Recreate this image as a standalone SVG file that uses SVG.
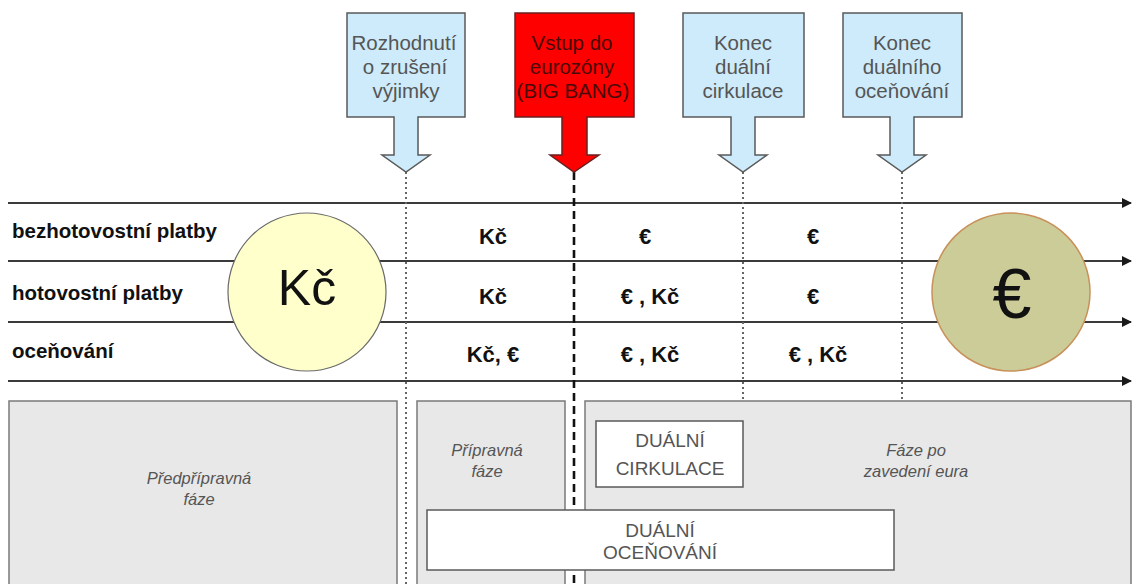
<svg xmlns="http://www.w3.org/2000/svg" width="1138" height="584" viewBox="0 0 1138 584">
  <style>
    .callout { fill: #CDEBFA; stroke: #5a5a5a; stroke-width: 1.5; }
    .callout-red { fill: #FF0000; stroke: #6a2020; stroke-width: 1.5; }
    .ctext { font-family: "Liberation Sans", Arial, sans-serif; font-size: 20.5px; fill: #555555; text-anchor: middle; }
    .ctext-red { font-family: "Liberation Sans", Arial, sans-serif; font-size: 20.5px; fill: #4a0a0a; text-anchor: middle; }
    .axis { stroke: #3a3a3a; stroke-width: 2; fill: none; marker-end: url(#arrow); }
    .dotted { stroke: #666666; stroke-width: 2; stroke-dasharray: 2 3; fill: none; }
    .dashed { stroke: #111111; stroke-width: 2.6; stroke-dasharray: 8 5; fill: none; }
    .rowlabel { font-family: "Liberation Sans", Arial, sans-serif; font-size: 20.5px; font-weight: bold; fill: #111111; }
    .cell { font-family: "Liberation Sans", Arial, sans-serif; font-size: 22px; font-weight: bold; fill: #111111; text-anchor: middle; }
    .phase { fill: #E8E8E8; stroke: #7a7a7a; stroke-width: 1.5; }
    .phasetext { font-family: "Liberation Sans", Arial, sans-serif; font-size: 16.5px; font-style: italic; fill: #555555; text-anchor: middle; }
    .dual { fill: #FFFFFF; stroke: #5a5a5a; stroke-width: 1.5; }
    .dualtext { font-family: "Liberation Sans", Arial, sans-serif; font-size: 19px; fill: #555555; text-anchor: middle; }
  </style>
  <defs>
    <marker id="arrow" viewBox="0 0 10 10" refX="9" refY="5" markerWidth="5" markerHeight="5" orient="auto" markerUnits="strokeWidth">
      <path d="M0,0 L10,5 L0,10 Z" fill="#1a1a1a"/>
    </marker>
  </defs>

  <rect width="1138" height="584" fill="#FFFFFF"/>

  <!-- connectors: time lines and milestone guides -->
  <g id="connectors">
    <line class="axis" x1="8" y1="203" x2="1131" y2="203"/>
    <line class="axis" x1="8" y1="261" x2="1131" y2="261"/>
    <line class="axis" x1="8" y1="322" x2="1131" y2="322"/>
    <line class="axis" x1="8" y1="381" x2="1131" y2="381"/>
    <line class="dotted" x1="406" y1="172" x2="406" y2="584"/>
    <line class="dashed" x1="574" y1="172" x2="574" y2="584"/>
    <line class="dotted" x1="743" y1="172" x2="743" y2="584"/>
    <line class="dotted" x1="902" y1="172" x2="902" y2="584"/>
  </g>

  <!-- milestone callouts -->
  <g id="callout-rozhodnuti">
    <path class="callout" d="M347,13 H465 V117 H418 V155 H430 L406,172 L382,155 H394 V117 H347 Z"/>
    <text class="ctext" x="404" y="50">Rozhodnutí</text>
    <text class="ctext" x="405" y="74">o zrušení</text>
    <text class="ctext" x="406" y="98">výjimky</text>
  </g>
  <g id="callout-vstup">
    <path class="callout-red" d="M515,13 H634 V117 H587 V155 H599 L574,172 L550,155 H562 V117 H515 Z"/>
    <text class="ctext-red" x="572" y="50">Vstup do</text>
    <text class="ctext-red" x="572" y="74">eurozóny</text>
    <text class="ctext-red" x="573" y="98">(BIG BANG)</text>
  </g>
  <g id="callout-konec-cirkulace">
    <path class="callout" d="M683,13 H804 V117 H755 V155 H767 L743,172 L719,155 H731 V117 H683 Z"/>
    <text class="ctext" x="743" y="50">Konec</text>
    <text class="ctext" x="743" y="74">duální</text>
    <text class="ctext" x="743" y="98">cirkulace</text>
  </g>
  <g id="callout-konec-ocenovani">
    <path class="callout" d="M843,13 H962 V117 H914 V155 H926 L902,172 L878,155 H890 V117 H843 Z"/>
    <text class="ctext" x="902" y="50">Konec</text>
    <text class="ctext" x="902" y="74">duálního</text>
    <text class="ctext" x="902" y="98">oceňování</text>
  </g>

  <!-- row labels -->
  <g id="row-labels">
    <text class="rowlabel" x="12" y="238">bezhotovostní platby</text>
    <text class="rowlabel" x="12" y="300">hotovostní platby</text>
    <text class="rowlabel" x="12" y="358">oceňování</text>
  </g>

  <!-- currency circles -->
  <g id="coin-kc">
    <circle cx="307" cy="292" r="79" fill="#FFFFCC" stroke="#6a6a6a" stroke-width="1.2"/>
    <text x="307" y="305" font-family="Liberation Sans, Arial, sans-serif" font-size="50" fill="#111111" text-anchor="middle">Kč</text>
  </g>
  <g id="coin-eur">
    <circle cx="1011" cy="292" r="79" fill="#CCCC99" stroke="#c8905a" stroke-width="1.5"/>
    <text x="1012" y="318" font-family="Liberation Sans, Arial, sans-serif" font-size="70" fill="#111111" text-anchor="middle">€</text>
  </g>

  <!-- currency per phase and row -->
  <g id="cells">
    <text class="cell" x="493" y="244">Kč</text>
    <text class="cell" x="645" y="244">€</text>
    <text class="cell" x="813" y="244">€</text>
    <text class="cell" x="493" y="304">Kč</text>
    <text class="cell" x="650" y="304">€ , Kč</text>
    <text class="cell" x="813" y="304">€</text>
    <text class="cell" x="493" y="362">Kč, €</text>
    <text class="cell" x="650" y="362">€ , Kč</text>
    <text class="cell" x="818" y="362">€ , Kč</text>
  </g>

  <!-- phases -->
  <g id="phase-predpripravna">
    <rect class="phase" x="9" y="401" width="388" height="200"/>
    <text class="phasetext" x="199" y="484">Předpřípravná</text>
    <text class="phasetext" x="199" y="505">fáze</text>
  </g>
  <g id="phase-pripravna">
    <rect class="phase" x="417" y="401" width="148" height="200"/>
    <text class="phasetext" x="487" y="456">Přípravná</text>
    <text class="phasetext" x="487" y="477">fáze</text>
  </g>
  <g id="phase-po-zavedeni">
    <rect class="phase" x="585" y="401" width="546" height="200"/>
    <text class="phasetext" x="916" y="456">Fáze po</text>
    <text class="phasetext" x="916" y="477">zavedení eura</text>
  </g>
  <g id="dualni-cirkulace">
    <rect class="dual" x="596" y="421" width="147" height="66"/>
    <text class="dualtext" x="670" y="447">DUÁLNÍ</text>
    <text class="dualtext" x="670" y="475">CIRKULACE</text>
  </g>
  <g id="dualni-ocenovani">
    <rect class="dual" x="427" y="510" width="467" height="60"/>
    <text class="dualtext" x="660" y="537">DUÁLNÍ</text>
    <text class="dualtext" x="660" y="559">OCEŇOVÁNÍ</text>
  </g>
</svg>
